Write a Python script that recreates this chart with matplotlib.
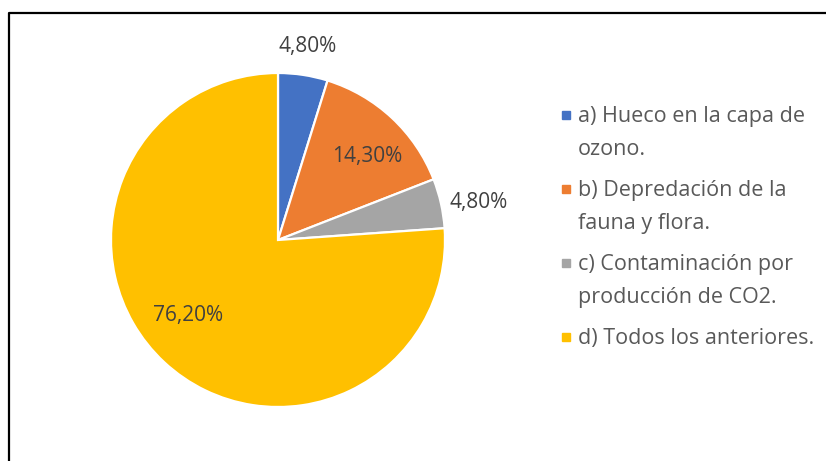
import matplotlib.pyplot as plt
import numpy as np
from matplotlib.lines import Line2D

plt.rcParams['font.family'] = ['Open Sans', 'DejaVu Sans']

# datos
categorias = ['a) Hueco en la capa de\nozono.',
              'b) Depredación de la\nfauna y flora.',
              'c) Contaminación por\nproducción de CO2.',
              'd) Todos los anteriores.']
valores = [4.8, 14.3, 4.8, 76.2]
etiquetas = ['4,80%', '14,30%', '4,80%', '76,20%']
colores = ['#4472C4', '#ED7D31', '#A5A5A5', '#FFC000']

W, H = 826, 461
fig = plt.figure(figsize=(W / 100, H / 100), dpi=100)

# ejes del pastel (centro 278,240 radio 167 px)
cx, cy, r = 278, 240, 167
ax = fig.add_axes([(cx - r) / W, (H - cy - r) / H, 2 * r / W, 2 * r / H])
wedges, _ = ax.pie(valores, colors=colores, startangle=90, counterclock=False,
                   radius=1, wedgeprops=dict(edgecolor='white', linewidth=1.6))
ax.set_xlim(-1, 1)
ax.set_ylim(-1, 1)
ax.axis('off')

# posicion de etiquetas
dist = [1.17, 0.73, 1.22, 0.70]
desv = [0, -4, -2, -7]
for w, lab, d, dv in zip(wedges, etiquetas, dist, desv):
    ang = np.deg2rad((w.theta1 + w.theta2) / 2 + dv)
    ax.text(d * np.cos(ang), d * np.sin(ang), lab, ha='center', va='center',
            fontsize=15, color='#404040', clip_on=False)

# leyenda manual
y0 = 115
paso = 74
for i, (cat, col) in enumerate(zip(categorias, colores)):
    y = y0 + i * paso
    fig.add_artist(Line2D([566 / W], [1 - y / H], marker='s', markersize=6,
                          color=col, transform=fig.transFigure))
    fig.text(578 / W, 1 - (y - 9) / H, cat, ha='left', va='top',
             fontsize=15.5, color='#595959', linespacing=1.72)

# marco
fig.add_artist(Line2D([8.5 / W, 8.5 / W, 1], [0, 1 - 13 / H, 1 - 13 / H],
                      color='black', linewidth=1.6, transform=fig.transFigure))

fig.savefig('out.png', dpi=100)
